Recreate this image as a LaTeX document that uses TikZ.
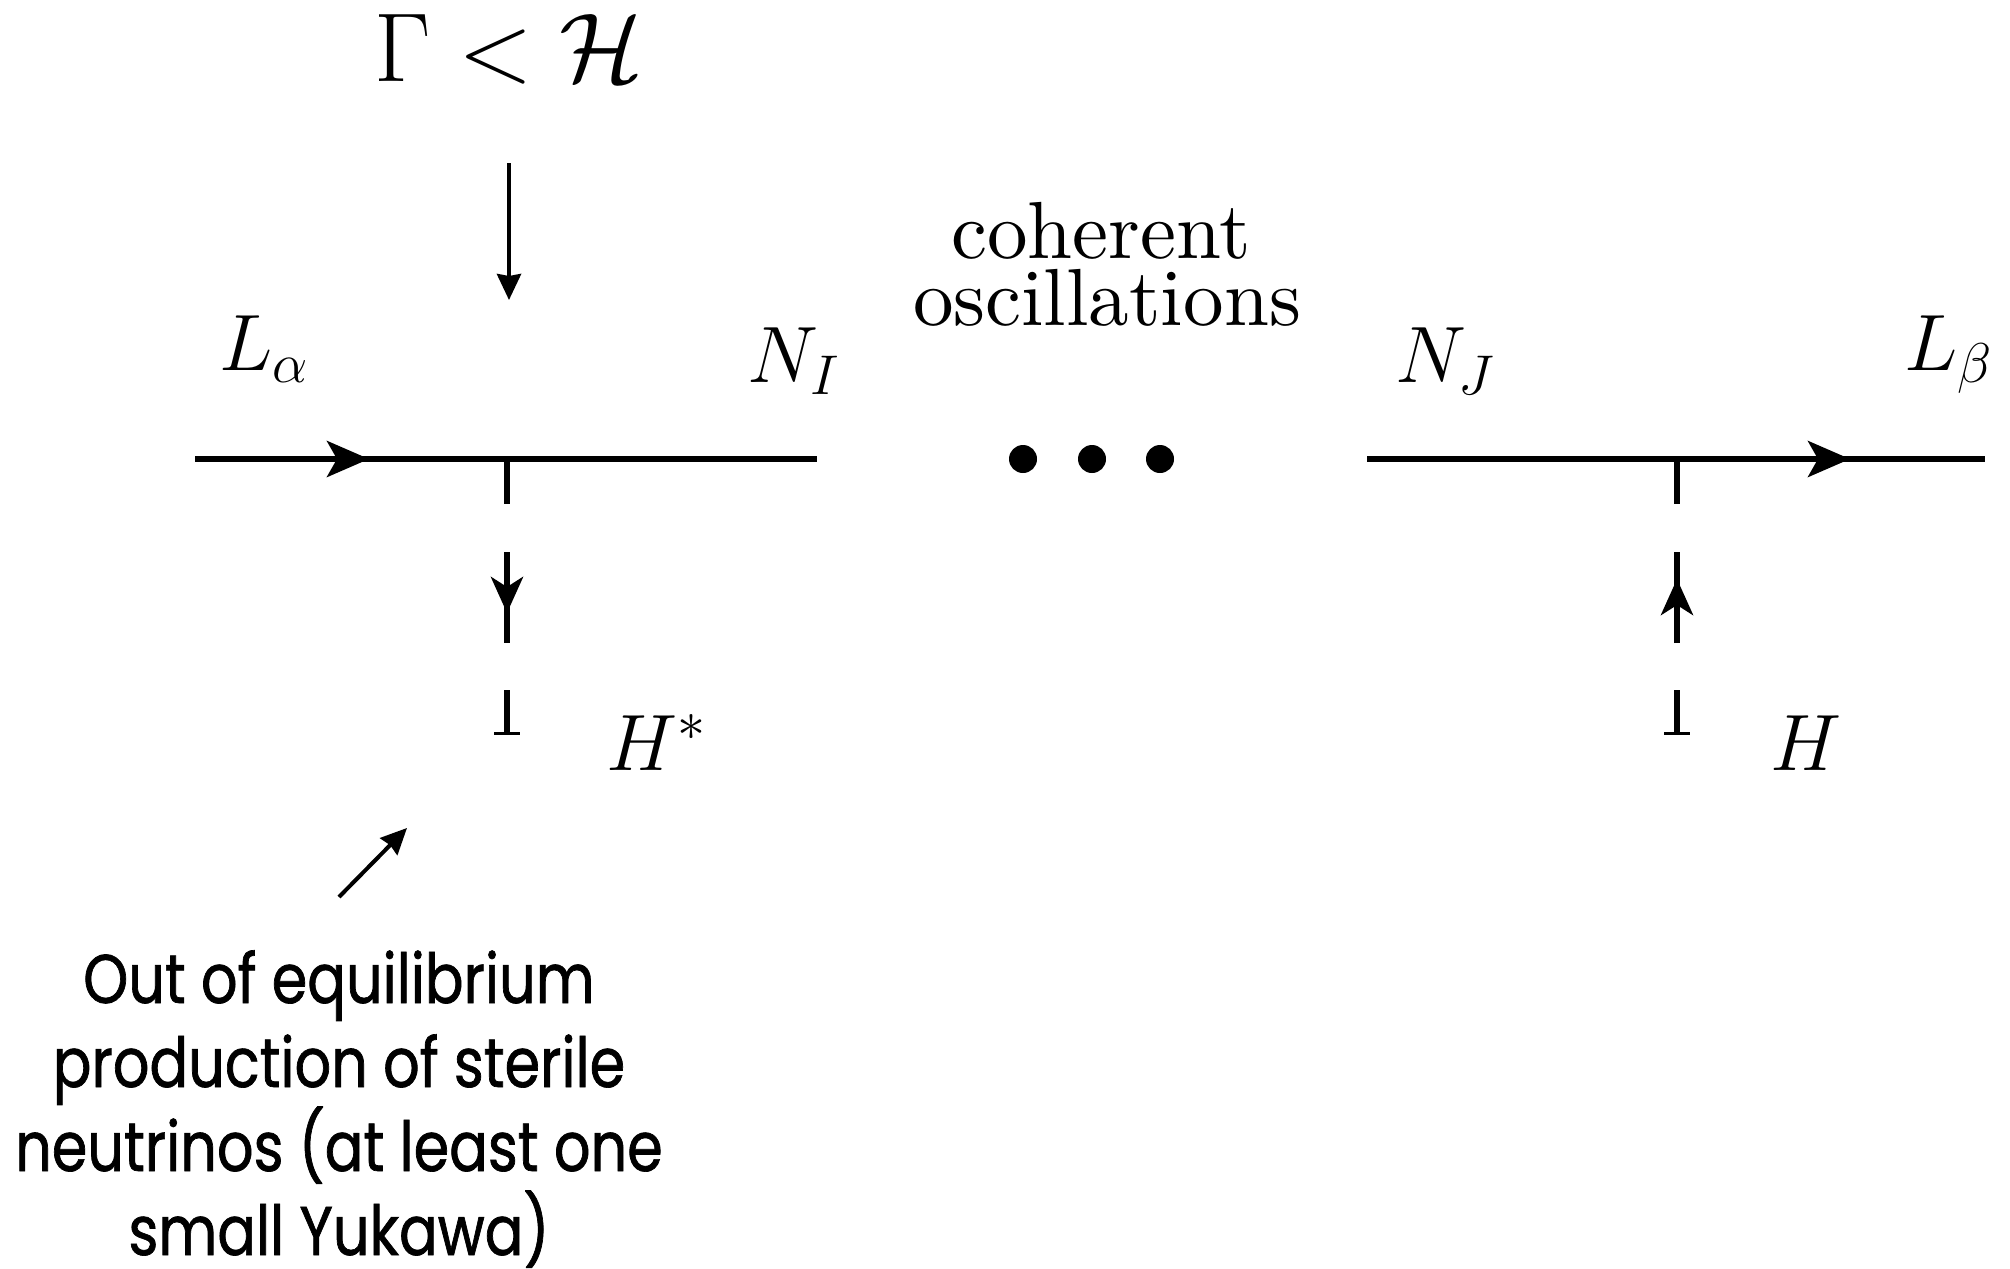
\documentclass[tikz,border=0pt]{standalone}
\usepackage{fix-cm}
\usepackage{graphicx}
\usepackage{fontspec}
\usetikzlibrary{arrows.meta}
\newfontfamily\notefont[FakeStretch=0.83,FakeBold=1]{Poppins}
\tikzset{
  fline/.style={line width=3pt},
  vline/.style={line width=3pt},
  aline/.style={line width=2pt},
  ftip/.style={-{Stealth[length=21pt,width=18pt,inset=5pt]}},
  vtip/.style={-{Stealth[length=18pt,width=16pt,inset=5pt]}},
  atip/.style={-{Stealth[length=13pt,width=12pt,inset=1pt]}},
  mlabel/.style={anchor=base west,inner sep=0pt,font=\fontsize{40}{48}\selectfont},
  rlabel/.style={anchor=base,inner sep=0pt},
  dot/.style={circle,fill,inner sep=0pt,minimum size=14pt},
}
\newcommand{\bigrm}[1]{\scalebox{4.05}{\fontsize{10}{12}\selectfont #1}}
\begin{document}
\begin{tikzpicture}[x=0.5pt,y=-0.5pt]
\useasboundingbox (0,0) rectangle (2010,1269);

% fermion lines
\coordinate (la) at (195,459);
\coordinate (a1) at (369,459);
\coordinate (v1) at (507,459);
\coordinate (ni) at (817,459);
\coordinate (nj) at (1367,459);
\coordinate (v2) at (1677,459);
\coordinate (a2) at (1850,459);
\coordinate (lb) at (1985,459);
\draw[fline] (la) -- (ni);
\draw[fline,ftip] (la) -- (a1);
\draw[fline] (nj) -- (lb);
\draw[fline,ftip] (nj) -- (a2);

% left scalar (H*)
\coordinate (p1b) at (507,504);
\coordinate (p1c) at (507,552);
\coordinate (p1t) at (507,613);
\coordinate (p1d) at (507,643);
\coordinate (p1e) at (507,690);
\coordinate (p1f) at (507,733);
\coordinate (p1l) at (494,733);
\coordinate (p1r) at (520,733);
\draw[vline] (v1) -- (p1b);
\draw[vline] (p1c) -- (p1d);
\draw[vline,vtip] (p1c) -- (p1t);
\draw[vline] (p1e) -- (p1f);
\draw[line width=1.5pt] (p1l) -- (p1r);

% right scalar (H)
\coordinate (p2b) at (1677,504);
\coordinate (p2c) at (1677,552);
\coordinate (p2t) at (1677,579);
\coordinate (p2d) at (1677,643);
\coordinate (p2e) at (1677,690);
\coordinate (p2f) at (1677,733);
\coordinate (p2l) at (1664,733);
\coordinate (p2r) at (1690,733);
\draw[vline] (v2) -- (p2b);
\draw[vline] (p2c) -- (p2d);
\draw[vline,vtip] (p2d) -- (p2t);
\draw[vline] (p2e) -- (p2f);
\draw[line width=1.5pt] (p2l) -- (p2r);

% dots
\node[dot] (dt1) at (1023,459) {};
\node[dot] (dt2) at (1092,459) {};
\node[dot] (dt3) at (1160,459) {};

% labels
\node[mlabel] (Lalpha) at (219,370) {$L_\alpha$};
\node[mlabel] (NI) at (747,382) {$N_I$};
\node[mlabel] (NJ) at (1395,382) {$N_J$};
\node[mlabel] (Lbeta) at (1904,370) {$L_\beta$};
\node[mlabel] (Hs) at (606,770) {$H^*$};
\node[mlabel] (H) at (1770,770) {$H$};

\node[rlabel] (coh) at (1101,258) {\bigrm{coherent}};
\node[rlabel] (osc) at (1107,325) {\bigrm{oscillations}};

% condition and arrow
\node[anchor=base,inner sep=0pt,font=\fontsize{49}{58}\selectfont] (cond) at (509,82) {$\Gamma<\mathcal{H}$};
\coordinate (t1) at (509,163);
\coordinate (t2) at (509,300);
\draw[aline,atip] (t1) -- (t2);

% note and arrow
\coordinate (n0) at (339,897);
\coordinate (n1) at (407,828);
\draw[aline,atip] (n0) -- (n1);
\node[anchor=base,align=center,inner sep=0pt,font=\notefont\fontsize{34.5}{42}\selectfont] (note) at (339,1255)
  {Out of equilibrium\\production of sterile\\neutrinos (at least one\\small Yukawa)};
\end{tikzpicture}
\end{document}
